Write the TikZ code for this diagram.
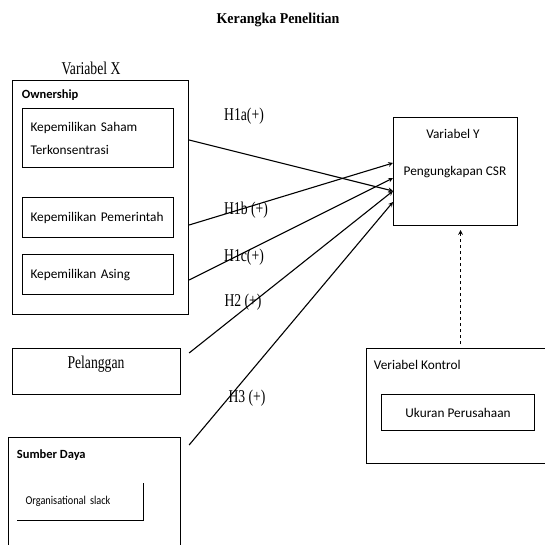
\documentclass[tikz,border=0pt]{standalone}
\usepackage{fontspec}
\setmainfont{Liberation Serif}
\newfontfamily\calibri{Carlito}
\newfontfamily\calibrisempit[FakeStretch=0.86]{Carlito}
\newfontfamily\sempit[FakeStretch=0.76]{Liberation Serif}
\newfontfamily\sempittebal[FakeStretch=0.93]{Liberation Serif Bold}

\tikzstyle{kotak}=[shape=rectangle,draw,line width=1.1pt,inner sep=0pt,anchor=north west]
\tikzstyle{isi}=[font=\calibri\fontsize{13.3}{16}\selectfont]
\tikzstyle{serif}=[font=\sempit\fontsize{18}{20}\selectfont]
\tikzstyle{judul}=[font=\calibri\bfseries\fontsize{12.5}{15}\selectfont,anchor=west]

\begin{document}
\begin{tikzpicture}[x=1pt, y=-1pt, ->, >=stealth, line width=1.1pt]
	\useasboundingbox (0,0) rectangle (545,544);
	\node[font=\sempittebal\fontsize{15}{17}\selectfont] (judulgbr) at (278,20) {Kerangka Penelitian};
	% variabel X
	\node[serif] (varx) at (91,68) {Variabel X};
	\node[kotak, minimum width=176, minimum height=234] (own) at (12,80) {};
	\node[judul] (ownlbl) at (18,95) {Ownership};
	\node[kotak, isi, minimum width=151, minimum height=59, inner xsep=8pt, text width=135, align=left] (k1) at (22,108) {Kepemilikan Saham\\[7pt]Terkonsentrasi};
	\foreach \nama/\y/\i in {{Kepemilikan Pemerintah}/197/2, {Kepemilikan Asing}/254/3}
	\node[kotak, isi, minimum width=151, minimum height=40, inner xsep=8pt, text width=135, align=left] (k\i) at (22,\y) {\nama};
	\node[kotak, minimum width=168, minimum height=46] (pel) at (12,348) {};
	\node[serif] (pellbl) at (96,364) {Pelanggan};
	\node[kotak, minimum width=172, minimum height=130] (sd) at (8,437) {};
	\node[judul] (sdlbl) at (13,455) {Sumber Daya};
	\node[anchor=north west, inner xsep=8pt, inner ysep=0pt, minimum width=125, minimum height=36, text width=109, align=left, font=\calibrisempit\fontsize{12}{14}\selectfont] (os) at (17,483) {Organisational slack};
	\draw[-] (os.north east) -- (os.south east) -- (os.south west);
	% variabel Y dan kontrol
	\node[kotak, minimum width=124, minimum height=108] (vary) at (393,117) {};
	\node[isi] (varylbl) at (453,134) {Variabel Y};
	\node[isi] (csr) at (455,172) {Pengungkapan CSR};
	\node[kotak, minimum width=184, minimum height=115] (kontrol) at (366,348) {};
	\node[isi, anchor=west] (kontrollbl) at (370,365) {Veriabel Kontrol};
	\node[kotak, isi, minimum width=153, minimum height=36] (ukuran) at (381,394) {Ukuran Perusahaan};
	% ujung panah
	\path (own.north east) ++(0,60) coordinate (s1) ++(0,85) coordinate (s2) ++(0,55) coordinate (s3);
	\path (pel.north east) ++(8,5) coordinate (s4);
	\path (sd.north east) ++(8,8) coordinate (s5);
	\path (vary.north west) ++(0,46) coordinate (t1) ++(0,15) coordinate (t2) ++(0,13) coordinate (t3) ++(0,11) coordinate (t4);
\foreach \source/\dest in {s1/t3, s2/t1, s3/t2, s4/t3, s5/t4}
	\draw (\source) -- (\dest);
	\draw[dashed] ([shift={(2,-4)}]kontrol.north) -- ([shift={(5,4)}]vary.south);
	\foreach \teks/\x/\y/\i in {{H1a(+)}/244/116/1a, {H1b (+)}/246/210/1b, {H1c(+)}/244/257/1c, {H2 (+)}/243/302/2, {H3 (+)}/247/398/3}
	\node[serif] (h\i) at (\x,\y) {\teks};
\end{tikzpicture}
\end{document}
